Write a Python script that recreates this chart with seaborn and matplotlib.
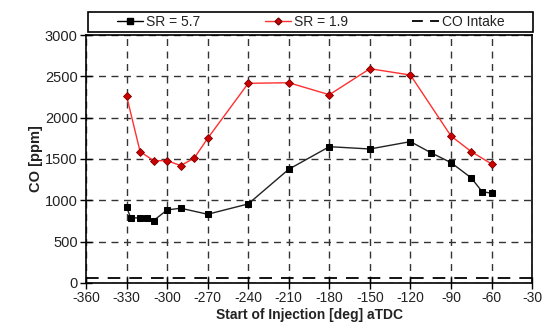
import matplotlib
matplotlib.use("Agg")
import matplotlib.pyplot as plt
import seaborn as sns
import pandas as pd
from matplotlib.lines import Line2D
from matplotlib.patches import Rectangle

sns.set_theme(style="white")
plt.rcParams['font.family'] = ['Liberation Sans', 'DejaVu Sans']

soi_sr57 = [-330, -327, -320, -315, -310, -300, -290, -270, -240, -210, -180, -150, -120, -105, -90, -75, -67, -60]
co_sr57 = [916, 790, 785, 785, 755, 883, 904, 831, 956, 1376, 1649, 1621, 1710, 1577, 1456, 1271, 1105, 1085]

soi_sr19 = [-330, -320, -310, -300, -290, -280, -270, -240, -210, -180, -150, -120, -90, -75, -60]
co_sr19 = [2262, 1589, 1480, 1480, 1420, 1510, 1750, 2416, 2423, 2278, 2593, 2516, 1778, 1589, 1440]

co_intake = 65
xticks = list(range(-360, -29, 30))
yticks = list(range(0, 3001, 500))

fig = plt.figure(figsize=(5.48, 3.34), dpi=100)
ax = fig.add_axes([0.157, 0.153, 0.814, 0.742])

df57 = pd.DataFrame({"x": soi_sr57, "y": co_sr57})
df19 = pd.DataFrame({"x": soi_sr19, "y": co_sr19})

sns.lineplot(data=df57, x="x", y="y", ax=ax, color="#222222", lw=1.0,
             marker="s", markersize=5, markerfacecolor="black", markeredgecolor="black")
sns.lineplot(data=df19, x="x", y="y", ax=ax, color="#ff3030", lw=1.0,
             marker="D", markersize=4.2, markerfacecolor="#cc0000", markeredgecolor="#7a0000",
             markeredgewidth=0.6)
ax.axhline(co_intake, color="black", lw=1.3, dashes=(7, 5), zorder=3)

ax.set_xlim(-360, -30)
ax.set_ylim(0, 3000)
ax.set_xticks(xticks)
ax.set_yticks(yticks)
ax.set_xticklabels([str(t) for t in xticks], fontsize=10, color="#222222")
ax.set_yticklabels([str(t) for t in yticks], fontsize=10.5, color="#222222")
ax.grid(True, color="#333333", lw=1.0, linestyle=(0, (5, 4)))
ax.set_axisbelow(True)
for s in ax.spines.values():
    s.set_visible(True)
    s.set_color("black")
    s.set_linewidth(1.2)
ax.tick_params(axis="both", which="major", direction="inout", length=8, width=1.0,
               color="black", bottom=True, left=True, pad=2)
ax.set_xlabel("Start of Injection [deg] aTDC", fontsize=10, fontweight="bold", labelpad=2, color="#222222")
ax.set_ylabel("CO [ppm]", fontsize=10.5, fontweight="bold", labelpad=1, color="#222222")

# legend frame spanning the plot width
fig.patches.append(Rectangle((0.161, 0.904), 0.812, 0.06, transform=fig.transFigure,
                             fill=False, edgecolor="black", lw=1.2))
handles = [
    Line2D([], [], color="black", lw=1.0, marker="s", markersize=4, markerfacecolor="black"),
    Line2D([], [], color="#ff3030", lw=1.0, marker="D", markersize=3.5, markerfacecolor="#cc0000",
           markeredgecolor="#7a0000"),
    Line2D([], [], color="black", lw=1.3, dashes=(6, 4)),
]
labels = ["SR = 5.7", "SR = 1.9", "CO Intake"]
leg = fig.legend(handles, labels, loc="center", bbox_to_anchor=(0.567, 0.934), ncol=3,
                 frameon=False, fontsize=10,
                 handlelength=1.9, handletextpad=0.25, columnspacing=4.6,
                 borderpad=0.1, borderaxespad=0)
for t in leg.get_texts():
    t.set_color("#222222")

fig.savefig("out.png", dpi=100)
